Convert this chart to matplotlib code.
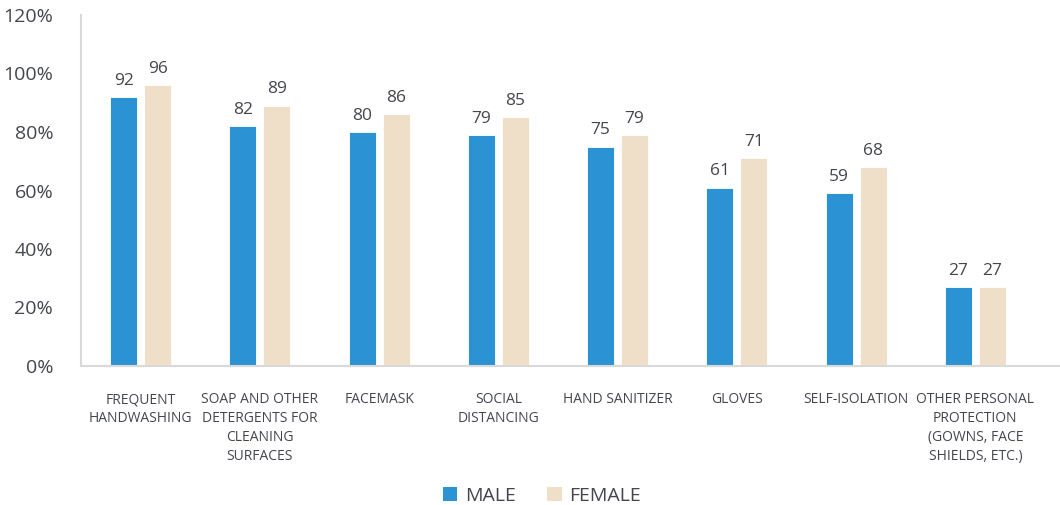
import matplotlib
matplotlib.use("Agg")
import matplotlib.pyplot as plt
import numpy as np
from matplotlib.patches import Patch

categories = ["FREQUENT\nHANDWASHING", "SOAP AND OTHER\nDETERGENTS FOR\nCLEANING\nSURFACES",
              "FACEMASK", "SOCIAL\nDISTANCING", "HAND SANITIZER", "GLOVES",
              "SELF-ISOLATION", "OTHER PERSONAL\nPROTECTION\n(GOWNS, FACE\nSHIELDS, ETC.)"]
male = [92, 82, 80, 79, 75, 61, 59, 27]
female = [96, 89, 86, 85, 79, 71, 68, 27]
series_names = ["MALE", "FEMALE"]
yticks = [0, 20, 40, 60, 80, 100, 120]

plt.rcParams['font.family'] = ['Open Sans', 'DejaVu Sans']
text_color = '#44464E'
blue = '#2B93D3'
beige = '#F0DFC8'

fig = plt.figure(figsize=(10.6, 5.05), dpi=100)
ax = fig.add_axes([81/1060, 139/505, (1060-81)/1060, (366-15)/505])

x = np.arange(len(categories))
w = 0.226
off = 0.1425
b1 = ax.bar(x - off, male, width=w, color=blue, edgecolor='white', linewidth=0.6)
b2 = ax.bar(x + off, female, width=w, color=beige, edgecolor='white', linewidth=0.6)

for bars, vals in ((b1, male), (b2, female)):
    for r, v in zip(bars, vals):
        ax.annotate(f"{v}", (r.get_x() + r.get_width()/2, v), xytext=(0, 6),
                    textcoords='offset points', ha='center', va='bottom',
                    fontsize=12.5, color=text_color)

ax.set_xlim(-0.5, 7.71)
ax.set_ylim(0, 120)
ax.set_yticks(yticks)
ax.set_yticklabels([f"{t}%" for t in yticks])
ax.set_xticks(x)
ax.set_xticklabels(categories, fontsize=10, color=text_color, linespacing=1.35, va='top')
ax.tick_params(axis='y', length=0, pad=20, labelsize=14, labelcolor=text_color)
ax.tick_params(axis='x', length=0, pad=19)
for s in ['top', 'right']:
    ax.spines[s].set_visible(False)
for s in ['left', 'bottom']:
    ax.spines[s].set_color('#D9D9D9')
    ax.spines[s].set_linewidth(1.5)

handles = [Patch(facecolor=blue, label=series_names[0]), Patch(facecolor=beige, label=series_names[1])]
fig.legend(handles=handles, loc='center', bbox_to_anchor=(542/1060, 1 - 496/505), ncol=2,
           frameon=False, fontsize=14, handlelength=0.75, handleheight=0.75,
           handletextpad=0.4, columnspacing=1.6, labelcolor=text_color)

fig.savefig("out.png", dpi=100)
